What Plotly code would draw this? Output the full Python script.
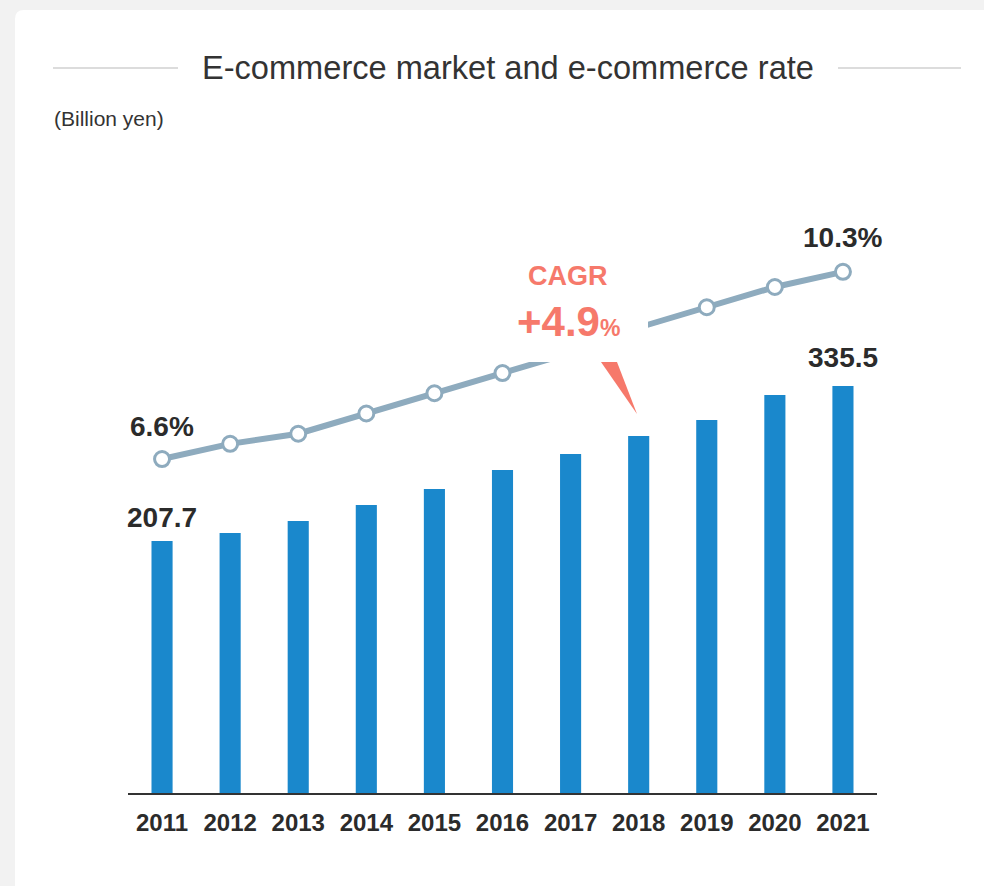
import plotly.graph_objects as go

# ---- data ----
years = ["2011", "2012", "2013", "2014", "2015", "2016",
         "2017", "2018", "2019", "2020", "2021"]
market = [207.7, 214.3, 224.2, 237.4, 250.6, 266.2,
          279.4, 294.2, 307.4, 328.0, 335.5]          # billion yen
ec_rate = [6.6, 6.9, 7.1, 7.5, 7.9, 8.3,
           8.7, 9.2, 9.6, 10.0, 10.3]                 # %
cagr_text = "+4.9"

# ---- geometry helpers (figure pixels -> paper fractions) ----
W, H = 984, 886
def px(x):
    return x / W
def py(y):
    return 1 - y / H

PLOT_L, PLOT_R, PLOT_T, PLOT_B = 128, 877, 150, 793
BAR_PX_PER_UNIT = 1.2133
RATE_PX_PER_PCT = 50.6

BAR_BLUE = "#1a88cc"
LINE_GREY = "#8eabbe"
CORAL = "#f6796b"
TEXT = "#2b2b2b"
FONT = "Liberation Sans, Arial, sans-serif"

fig = go.Figure()

fig.add_trace(go.Bar(
    x=years, y=market, width=0.31,
    marker=dict(color=BAR_BLUE, line=dict(width=0)),
    yaxis="y", hoverinfo="skip", showlegend=False,
))

fig.add_trace(go.Scatter(
    x=years, y=ec_rate, mode="lines+markers",
    line=dict(color=LINE_GREY, width=6),
    marker=dict(size=15, color="white", line=dict(color=LINE_GREY, width=3)),
    yaxis="y2", hoverinfo="skip", showlegend=False,
))

shapes = []
# white card on grey page
r = 9
card = (f"M {px(15)},{py(10 + r)} Q {px(15)},{py(10)} {px(15 + r)},{py(10)} "
        f"L {px(W + 5)},{py(10)} L {px(W + 5)},{py(H + 5)} L {px(15)},{py(H + 5)} Z")
shapes.append(dict(type="path", path=card, xref="paper", yref="paper",
                   fillcolor="white", line=dict(width=0), layer="below"))
# rules either side of the heading
for x0, x1 in [(53, 178), (838, 961)]:
    shapes.append(dict(type="line", xref="paper", yref="paper",
                       x0=px(x0), x1=px(x1), y0=py(68), y1=py(68),
                       line=dict(color="#dcdcdc", width=2)))
# white panel behind the CAGR callout
shapes.append(dict(type="rect", xref="paper", yref="paper",
                   x0=px(505), x1=px(648), y0=py(362), y1=py(250),
                   fillcolor="white", line=dict(width=0), layer="above"))
# callout pointer
tri = (f"M {px(601)},{py(362)} L {px(617)},{py(362)} L {px(637)},{py(414)} Z")
shapes.append(dict(type="path", path=tri, xref="paper", yref="paper",
                   fillcolor=CORAL, line=dict(width=0), layer="above"))

annotations = [
    dict(text="E-commerce market and e-commerce rate", xref="paper", yref="paper",
         x=px(508), y=py(68), xanchor="center", yanchor="middle", showarrow=False,
         font=dict(family=FONT, size=32.6, color="#333333")),
    dict(text="(Billion yen)", xref="paper", yref="paper",
         x=px(52), y=py(118), xanchor="left", yanchor="middle", showarrow=False,
         font=dict(family=FONT, size=21, color="#333333")),
    dict(text="CAGR", xref="paper", yref="paper",
         x=px(568), y=py(276), xanchor="center", yanchor="middle", showarrow=False,
         font=dict(family=FONT, size=27, color=CORAL, weight="bold")),
    dict(text=f"{cagr_text}<span style='font-size:23px'>%</span>",
         xref="paper", yref="paper",
         x=px(568), y=py(322), xanchor="center", yanchor="middle", showarrow=False,
         font=dict(family=FONT, size=42, color=CORAL, weight="bold")),
]

# end-point value labels (x given as category index)
label_font = dict(family=FONT, size=28, color=TEXT, weight="bold")
last = len(years) - 1
for i, shift in [(0, 24), (last, 28)]:
    annotations.append(dict(text=f"{market[i]:.1f}", x=i, y=market[i],
                            xref="x", yref="y", yanchor="middle", yshift=shift,
                            showarrow=False, font=label_font))
for i, shift in [(0, 33), (last, 34)]:
    annotations.append(dict(text=f"{ec_rate[i]:.1f}%", x=i, y=ec_rate[i],
                            xref="x", yref="y2", yanchor="middle", yshift=shift,
                            showarrow=False, font=label_font))

plot_h = PLOT_B - PLOT_T
fig.update_layout(
    width=W, height=H,
    margin=dict(l=0, r=0, t=0, b=0, pad=0),
    paper_bgcolor="#f2f2f2",
    plot_bgcolor="rgba(0,0,0,0)",
    shapes=shapes, annotations=annotations,
    xaxis=dict(domain=[px(PLOT_L), px(PLOT_R)], type="category",
               range=[-0.5, len(years) - 0.5],
               showline=True, linecolor="#333333", linewidth=2,
               showgrid=False, zeroline=False, ticks="",
               ticklabelstandoff=7,
               tickfont=dict(family=FONT, size=24, color=TEXT, weight="bold"),
               fixedrange=True),
    yaxis=dict(domain=[py(PLOT_B), py(PLOT_T)],
               range=[0, plot_h / BAR_PX_PER_UNIT], visible=False, fixedrange=True),
    yaxis2=dict(domain=[py(PLOT_B), py(PLOT_T)], overlaying="y",
                range=[0, plot_h / RATE_PX_PER_PCT], visible=False, fixedrange=True),
)

fig.write_html("out.html")
